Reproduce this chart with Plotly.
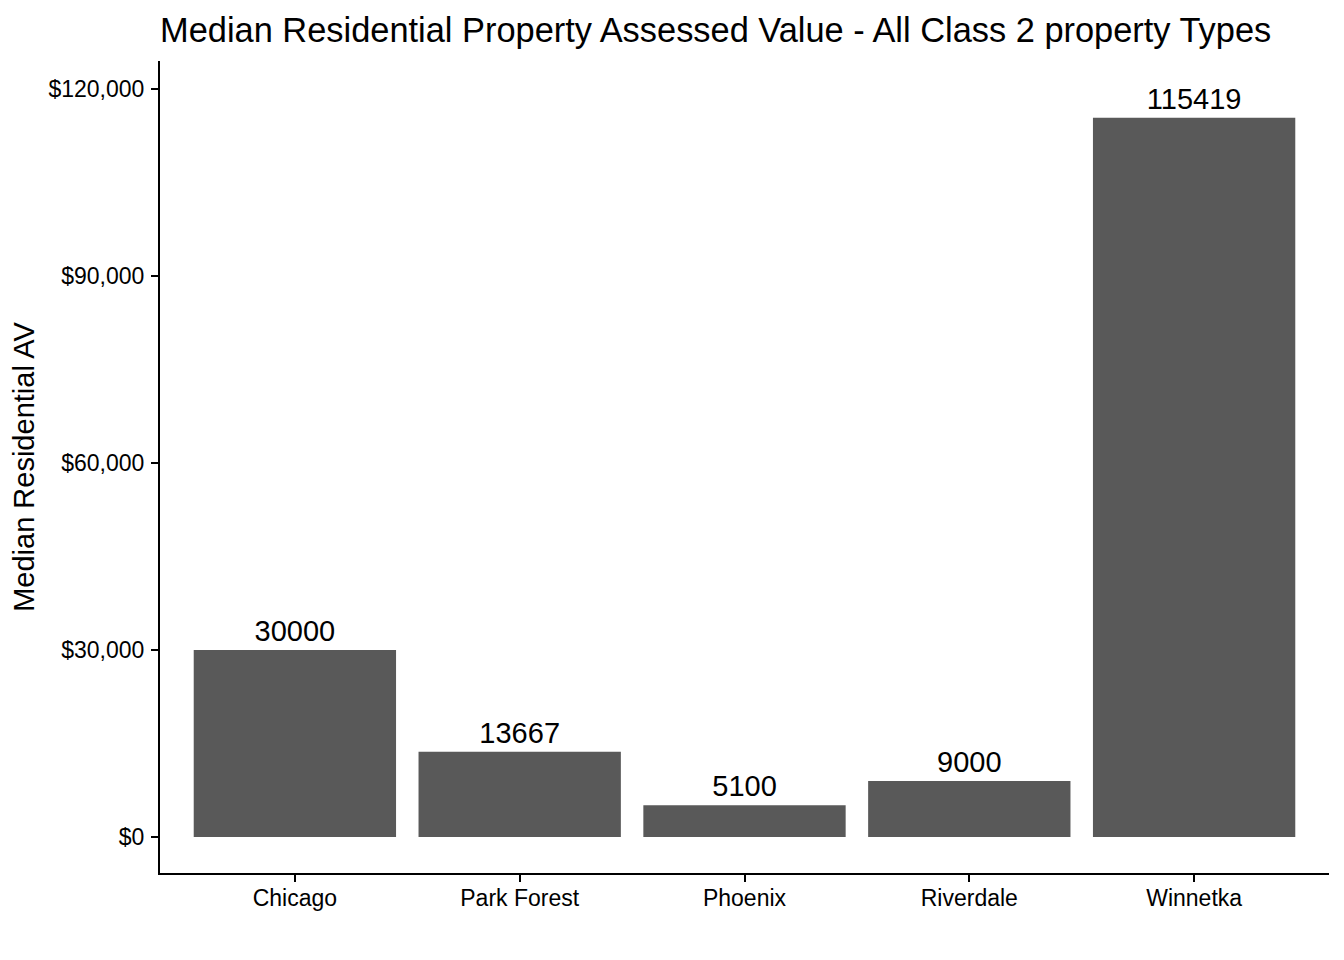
import plotly.graph_objects as go

categories = ["Chicago", "Park Forest", "Phoenix", "Riverdale", "Winnetka"]
values = [30000, 13667, 5100, 9000, 115419]
y_ticks = [0, 30000, 60000, 90000, 120000]

FONT = "Liberation Sans, Arial, sans-serif"

fig = go.Figure(
    go.Bar(
        x=categories,
        y=values,
        text=[str(v) for v in values],
        textposition="outside",
        textfont=dict(family=FONT, size=29, color="black"),
        marker=dict(color="#595959", line=dict(width=0)),
        cliponaxis=False,
    )
)

fig.update_layout(
    width=1344,
    height=960,
    paper_bgcolor="white",
    plot_bgcolor="white",
    margin=dict(l=152, r=23, t=53, b=95),
    bargap=0.1,
    showlegend=False,
    font=dict(family=FONT, color="black"),
    title=dict(
        text="Median Residential Property Assessed Value - All Class 2 property Types",
        x=152 / 1344,
        xanchor="left",
        xref="container",
        yref="container",
        y=1 - 22 / 960,
        yanchor="middle",
        font=dict(family=FONT, size=34.4, color="black"),
    ),
)

fig.update_xaxes(
    type="category",
    range=[-0.6, 4.6],
    showline=True,
    linecolor="black",
    linewidth=2,
    ticks="outside",
    ticklen=7,
    tickwidth=2,
    tickcolor="black",
    showgrid=False,
    zeroline=False,
    ticklabelstandoff=-4,
    tickfont=dict(family=FONT, size=23, color="black"),
)

fig.update_yaxes(
    range=[-5780, 124545],
    tickvals=y_ticks,
    tickformat="$,.0f",
    showline=True,
    linecolor="black",
    linewidth=2,
    ticks="outside",
    ticklen=7,
    tickwidth=2,
    tickcolor="black",
    showgrid=False,
    zeroline=False,
    ticklabelstandoff=2,
    tickfont=dict(family=FONT, size=23, color="black"),
    title=dict(text="Median Residential AV", font=dict(family=FONT, size=29, color="black"), standoff=7),
)

fig.write_html("out.html")
